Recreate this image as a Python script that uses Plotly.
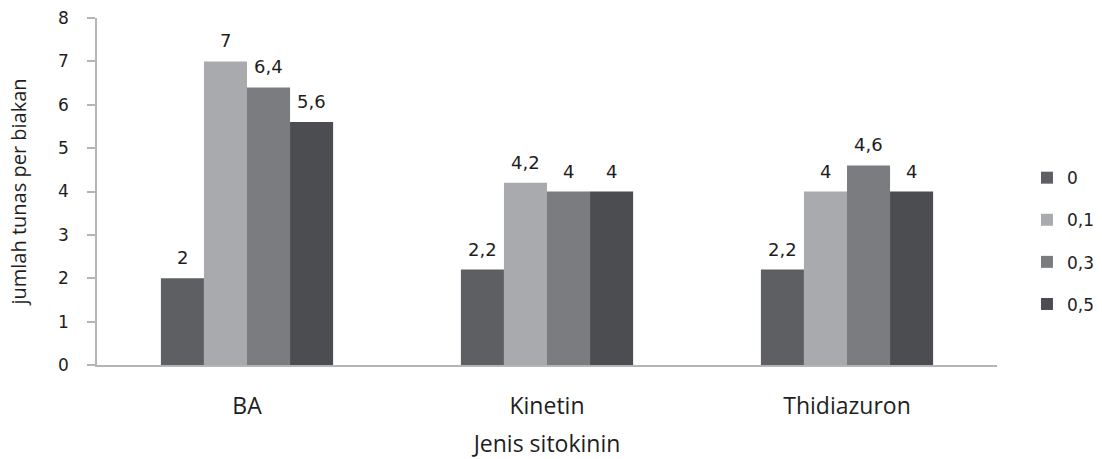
import plotly.graph_objects as go

categories = ["BA", "Kinetin", "Thidiazuron"]
series_names = ["0", "0,1", "0,3", "0,5"]
values_0 = [2, 2.2, 2.2]
values_01 = [7, 4.2, 4]
values_03 = [6.4, 4, 4.6]
values_05 = [5.6, 4, 4]
y_ticks = [0, 1, 2, 3, 4, 5, 6, 7, 8]

series_values = [values_0, values_01, values_03, values_05]
colors = ["#5e5f63", "#a8aaad", "#7b7c80", "#4c4d51"]
text_color = "#1e1e1e"

bargap = 0.426
n = len(series_names)
w = (1 - bargap) / n

fig = go.Figure()
for j, (name, vals) in enumerate(zip(series_names, series_values)):
    fig.add_trace(go.Bar(
        x=categories, y=vals, name=name, marker_color=colors[j],
        marker_line_width=0, legendgroup=name,
    ))

annotations = []
for j, vals in enumerate(series_values):
    for i, v in enumerate(vals):
        annotations.append(dict(
            x=i + (j - (n - 1) / 2) * w, y=v, xref="x", yref="y",
            text=f"{v:g}".replace(".", ","), showarrow=False,
            yanchor="bottom", yshift=8,
            font=dict(family="DejaVu Sans", size=18, color=text_color),
        ))

fig.update_layout(
    width=1102, height=459,
    margin=dict(l=97, r=105, t=18, b=94, autoexpand=False),
    paper_bgcolor="white", plot_bgcolor="white",
    barmode="group", bargap=bargap, bargroupgap=0,
    annotations=annotations,
    legend=dict(
        x=1.0333, xanchor="left", y=0.357, yanchor="middle",
        font=dict(family="DejaVu Sans", size=17, color=text_color),
        traceorder="grouped", tracegroupgap=17,
        itemwidth=30,
    ),
    xaxis=dict(
        showline=True, linecolor="#b5b5b5", linewidth=1.5,
        ticks="", showgrid=False,
        tickfont=dict(family="Open Sans", size=23, color=text_color),
        ticklabelstandoff=20,
        title=dict(text="Jenis sitokinin", standoff=24,
                   font=dict(family="Open Sans", size=23, color=text_color)),
        automargin=False,
    ),
    yaxis=dict(
        range=[0, 8.0001], tickvals=y_ticks,
        showline=True, linecolor="#b5b5b5", linewidth=1.5,
        ticks="outside", ticklen=8, tickcolor="#b5b5b5", tickwidth=1.5,
        showgrid=False, zeroline=False,
        tickfont=dict(family="DejaVu Sans", size=17, color=text_color),
        ticklabelstandoff=15,
        title=dict(text="jumlah tunas per biakan", standoff=26,
                   font=dict(family="Open Sans", size=20, color=text_color)),
        automargin=False,
    ),
)

# remove the browser's default 8px body margin so the figure fills the window
fig.write_html(
    "out.html",
    config={"displayModeBar": False},
    post_script="document.body.style.margin='0px';",
)
